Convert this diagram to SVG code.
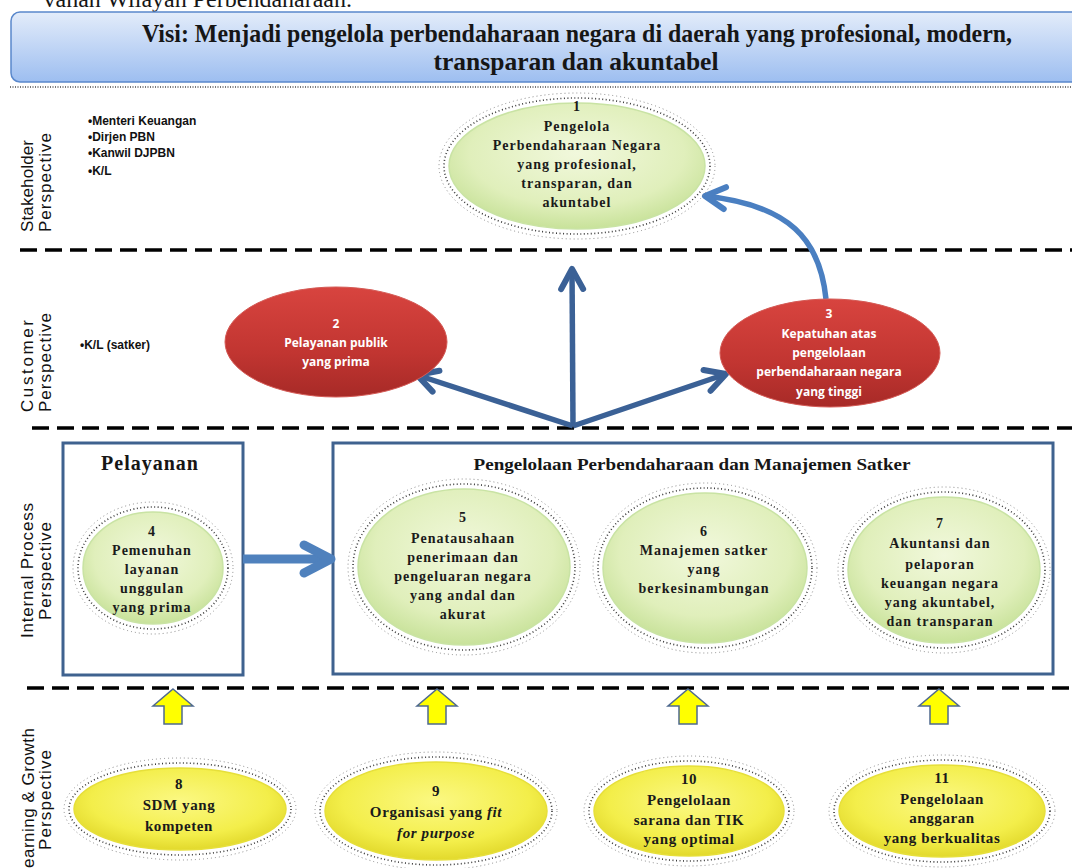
<svg xmlns="http://www.w3.org/2000/svg" width="1072" height="868" viewBox="0 0 1072 868">
<style>
.serifB{font-family:"Liberation Serif","Times New Roman",serif;font-weight:bold;fill:#161616}
.nt{font-family:"Liberation Serif","Times New Roman",serif;font-weight:bold;font-size:14px;letter-spacing:1px;fill:#1a1a1a;text-anchor:middle}
.yt{font-family:"Liberation Serif","Times New Roman",serif;font-weight:bold;font-size:15px;letter-spacing:0.6px;fill:#1a1a1a;text-anchor:middle}
.rt{font-family:"Open Sans","Liberation Sans",sans-serif;font-weight:bold;font-size:12px;fill:#ffffff;text-anchor:middle}
.vl{font-family:"Liberation Sans",Arial,sans-serif;font-size:17px;fill:#111}
.bl{font-family:"Liberation Sans",Arial,sans-serif;font-weight:bold;font-size:12px;fill:#111}
.dash{stroke:#000;stroke-width:3.5;stroke-dasharray:17 8;fill:none}
.halo1{fill:none;stroke:#3a3a3a;stroke-width:1.6;stroke-dasharray:1 2.5}
.halo2{fill:none;stroke:#8a8a8a;stroke-width:1;stroke-dasharray:1 3}
.green{fill:url(#gGreen);stroke:#c9e3a4;stroke-width:1.5}
.yellow{fill:url(#gYellow);stroke:#e6df3a;stroke-width:1.5}
.red{fill:url(#gRed);stroke:#d45a55;stroke-width:1}
.box{fill:#fff;stroke:#3f628f;stroke-width:3}
.yarrow{fill:#ffff00;stroke:#4f6a8f;stroke-width:1.5;stroke-linejoin:miter}
</style>
<defs>
<linearGradient id="gHead" x1="0" y1="0" x2="0" y2="1">
<stop offset="0" stop-color="#e3ecfa"/>
<stop offset="1" stop-color="#9dbef0"/>
</linearGradient>
<radialGradient id="gGreen" cx="0.5" cy="0.4" r="0.6">
<stop offset="0" stop-color="#f1f8dc"/>
<stop offset="0.7" stop-color="#e0efbb"/>
<stop offset="1" stop-color="#c8e29a"/>
</radialGradient>
<radialGradient id="gYellow" cx="0.5" cy="0.4" r="0.6">
<stop offset="0" stop-color="#fbf882"/>
<stop offset="0.7" stop-color="#f3ee4a"/>
<stop offset="1" stop-color="#e2d92c"/>
</radialGradient>
<linearGradient id="gRed" x1="0" y1="0" x2="0" y2="1">
<stop offset="0" stop-color="#d8443f"/>
<stop offset="0.6" stop-color="#c13531"/>
<stop offset="1" stop-color="#a72a27"/>
</linearGradient>
<marker id="chevD" viewBox="-26 -16 30 32" markerWidth="30" markerHeight="32" refX="0" refY="0" orient="auto" markerUnits="userSpaceOnUse" overflow="visible">
<path d="M-20,-11 L0,0 L-20,11" fill="none" stroke="#3b6196" stroke-width="6" stroke-linecap="round" stroke-linejoin="round"/>
</marker>
<marker id="chevL" viewBox="-26 -16 30 32" markerWidth="30" markerHeight="32" refX="0" refY="0" orient="auto" markerUnits="userSpaceOnUse" overflow="visible">
<path d="M-20,-11 L0,0 L-20,11" fill="none" stroke="#4a7fc1" stroke-width="6" stroke-linecap="round" stroke-linejoin="round"/>
</marker>
<marker id="chevB" viewBox="-32 -18 36 36" markerWidth="36" markerHeight="36" refX="0" refY="0" orient="auto" markerUnits="userSpaceOnUse" overflow="visible">
<path d="M-27,-14 L0,0 L-27,14" fill="none" stroke="#4f81bd" stroke-width="9" stroke-linecap="round" stroke-linejoin="round"/>
</marker>
<path id="yArrowShape" d="M0,0 L20,17 L9,17 L9,35 L-9,35 L-9,17 L-20,17 Z"/>
</defs>

<rect width="1072" height="868" fill="#ffffff"/>

<text class="serifB" x="352" y="7" font-size="24" text-anchor="end" style="font-weight:normal">vahan Wilayah Perbendaharaan.</text>

<g id="header">
<rect x="11" y="12" width="1075" height="70" rx="9" fill="url(#gHead)" stroke="#5a88cc" stroke-width="1.5"/>
<text class="serifB" x="577" y="42" font-size="25" text-anchor="middle" textLength="870" lengthAdjust="spacingAndGlyphs">Visi: Menjadi pengelola perbendaharaan negara di daerah yang profesional, modern,</text>
<text class="serifB" x="576" y="70" font-size="25" text-anchor="middle" textLength="285" lengthAdjust="spacingAndGlyphs">transparan dan akuntabel</text>
<line x1="10" y1="87" x2="1072" y2="87" stroke="#777" stroke-width="2" stroke-dasharray="1 1.5"/>
</g>

<g id="separators">
<line class="dash" x1="20" y1="250" x2="1072" y2="250"/>
<line class="dash" x1="32" y1="428" x2="1072" y2="428"/>
<line class="dash" x1="27" y1="688" x2="1072" y2="688"/>
</g>

<g id="perspective-labels">
<text class="vl" transform="translate(33,232) rotate(-90)" textLength="92" lengthAdjust="spacing">Stakeholder</text>
<text class="vl" transform="translate(51,232) rotate(-90)" textLength="99" lengthAdjust="spacing">Perspective</text>
<text class="vl" transform="translate(33,412) rotate(-90)" textLength="92" lengthAdjust="spacing">Customer</text>
<text class="vl" transform="translate(51,412) rotate(-90)" textLength="99" lengthAdjust="spacing">Perspective</text>
<text class="vl" transform="translate(33,638) rotate(-90)" textLength="135" lengthAdjust="spacing">Internal Process</text>
<text class="vl" transform="translate(51,620) rotate(-90)" textLength="98" lengthAdjust="spacing">Perspective</text>
<text class="vl" transform="translate(34,878) rotate(-90)" textLength="150" lengthAdjust="spacing">Learning &amp; Growth</text>
<text class="vl" transform="translate(51,850) rotate(-90)" textLength="100" lengthAdjust="spacing">Perspective</text>
</g>

<g id="stakeholder-list">
<text class="bl" x="88" y="125">•Menteri Keuangan</text>
<text class="bl" x="88" y="141">•Dirjen PBN</text>
<text class="bl" x="88" y="157">•Kanwil DJPBN</text>
<text class="bl" x="88" y="175">•K/L</text>
</g>
<g id="customer-list">
<text class="bl" x="80" y="349">•K/L (satker)</text>
</g>

<g id="group-pelayanan">
<rect class="box" x="63" y="443" width="180" height="232"/>
<text class="serifB" x="150" y="470" font-size="20" letter-spacing="1" text-anchor="middle">Pelayanan</text>
</g>
<g id="group-pengelolaan">
<rect class="box" x="333" y="443" width="720" height="231"/>
<text class="serifB" x="692" y="470" font-size="17" text-anchor="middle" textLength="437" lengthAdjust="spacingAndGlyphs">Pengelolaan  Perbendaharaan dan Manajemen Satker</text>
</g>

<g id="connectors">
<line x1="573" y1="426" x2="572" y2="269" stroke="#3b6196" stroke-width="5.5" marker-end="url(#chevD)"/>
<line x1="573" y1="426" x2="417" y2="375" stroke="#3b6196" stroke-width="5.5" marker-end="url(#chevD)"/>
<line x1="573" y1="426" x2="726" y2="374" stroke="#3b6196" stroke-width="5.5" marker-end="url(#chevD)"/>
<path d="M826,299 C820,240 790,205 705,196" fill="none" stroke="#4a7fc1" stroke-width="5.5" marker-end="url(#chevL)"/>
<line x1="243" y1="559" x2="331" y2="559" stroke="#4f81bd" stroke-width="9" marker-end="url(#chevB)"/>
<use href="#yArrowShape" class="yarrow" x="173" y="689"/>
<use href="#yArrowShape" class="yarrow" x="437" y="689"/>
<use href="#yArrowShape" class="yarrow" x="688" y="689"/>
<use href="#yArrowShape" class="yarrow" x="939" y="689"/>
</g>

<g id="node1">
<ellipse class="halo2" cx="577" cy="166" rx="138" ry="73"/>
<ellipse class="halo1" cx="577" cy="166" rx="133" ry="68"/>
<ellipse class="green" cx="577" cy="166" rx="128" ry="63"/>
<text class="nt"><tspan x="577" y="111">1</tspan><tspan x="577" y="131">Pengelola</tspan><tspan x="577" y="150">Perbendaharaan Negara</tspan><tspan x="577" y="169">yang profesional,</tspan><tspan x="577" y="188">transparan, dan</tspan><tspan x="577" y="207">akuntabel</tspan></text>
</g>

<g id="node2">
<ellipse class="red" cx="336" cy="342" rx="111" ry="55"/>
<text class="rt"><tspan x="336" y="328">2</tspan><tspan x="336" y="347">Pelayanan publik</tspan><tspan x="336" y="366">yang prima</tspan></text>
</g>

<g id="node3">
<ellipse class="red" cx="830" cy="353" rx="110" ry="54"/>
<text class="rt"><tspan x="829" y="318">3</tspan><tspan x="829" y="338">Kepatuhan atas</tspan><tspan x="829" y="357">pengelolaan</tspan><tspan x="829" y="376">perbendaharaan negara</tspan><tspan x="829" y="396">yang tinggi</tspan></text>
</g>

<g id="node4">
<ellipse class="halo2" cx="153" cy="568" rx="80" ry="66"/>
<ellipse class="halo1" cx="153" cy="568" rx="75" ry="61"/>
<ellipse class="green" cx="153" cy="568" rx="70" ry="56"/>
<text class="nt"><tspan x="152" y="536">4</tspan><tspan x="152" y="555">Pemenuhan</tspan><tspan x="152" y="574">layanan</tspan><tspan x="152" y="593">unggulan</tspan><tspan x="152" y="612">yang prima</tspan></text>
</g>

<g id="node5">
<ellipse class="halo2" cx="464" cy="567" rx="116" ry="88"/>
<ellipse class="halo1" cx="464" cy="567" rx="111" ry="83"/>
<ellipse class="green" cx="464" cy="567" rx="106" ry="78"/>
<text class="nt"><tspan x="463" y="522">5</tspan><tspan x="463" y="543">Penatausahaan</tspan><tspan x="463" y="562">penerimaan dan</tspan><tspan x="463" y="581">pengeluaran negara</tspan><tspan x="463" y="600">yang andal  dan</tspan><tspan x="463" y="619">akurat</tspan></text>
</g>

<g id="node6">
<ellipse class="halo2" cx="705" cy="568" rx="112" ry="85"/>
<ellipse class="halo1" cx="705" cy="568" rx="107" ry="80"/>
<ellipse class="green" cx="705" cy="568" rx="102" ry="75"/>
<text class="nt"><tspan x="704" y="536">6</tspan><tspan x="704" y="555">Manajemen satker</tspan><tspan x="704" y="574">yang</tspan><tspan x="704" y="593">berkesinambungan</tspan></text>
</g>

<g id="node7">
<ellipse class="halo2" cx="944" cy="570" rx="106" ry="83"/>
<ellipse class="halo1" cx="944" cy="570" rx="101" ry="78"/>
<ellipse class="green" cx="944" cy="570" rx="96" ry="73"/>
<text class="nt"><tspan x="940" y="528">7</tspan><tspan x="940" y="548">Akuntansi dan</tspan><tspan x="940" y="569">pelaporan</tspan><tspan x="940" y="588">keuangan negara</tspan><tspan x="940" y="607">yang akuntabel,</tspan><tspan x="940" y="626">dan transparan</tspan></text>
</g>

<g id="node8">
<ellipse class="halo2" cx="180" cy="809" rx="116" ry="51"/>
<ellipse class="halo1" cx="180" cy="809" rx="111" ry="46"/>
<ellipse class="yellow" cx="180" cy="809" rx="106" ry="41"/>
<text class="yt"><tspan x="179" y="789">8</tspan><tspan x="179" y="810">SDM yang</tspan><tspan x="179" y="831">kompeten</tspan></text>
</g>

<g id="node9">
<ellipse class="halo2" cx="436" cy="811" rx="121" ry="59"/>
<ellipse class="halo1" cx="436" cy="811" rx="116" ry="54"/>
<ellipse class="yellow" cx="436" cy="811" rx="111" ry="49"/>
<text class="yt"><tspan x="436" y="796">9</tspan><tspan x="436" y="817">Organisasi  yang <tspan font-style="italic">fit</tspan></tspan><tspan x="436" y="838" font-style="italic">for purpose</tspan></text>
</g>

<g id="node10">
<ellipse class="halo2" cx="689" cy="811" rx="105" ry="55"/>
<ellipse class="halo1" cx="689" cy="811" rx="100" ry="50"/>
<ellipse class="yellow" cx="689" cy="811" rx="95" ry="45"/>
<text class="yt"><tspan x="689" y="784">10</tspan><tspan x="689" y="805">Pengelolaan</tspan><tspan x="689" y="825">sarana dan TIK</tspan><tspan x="689" y="844">yang optimal</tspan></text>
</g>

<g id="node11">
<ellipse class="halo2" cx="942" cy="811" rx="113" ry="56"/>
<ellipse class="halo1" cx="942" cy="811" rx="108" ry="51"/>
<ellipse class="yellow" cx="942" cy="811" rx="103" ry="46"/>
<text class="yt"><tspan x="942" y="783">11</tspan><tspan x="942" y="804">Pengelolaan</tspan><tspan x="942" y="823">anggaran</tspan><tspan x="942" y="843">yang berkualitas</tspan></text>
</g>
</svg>
